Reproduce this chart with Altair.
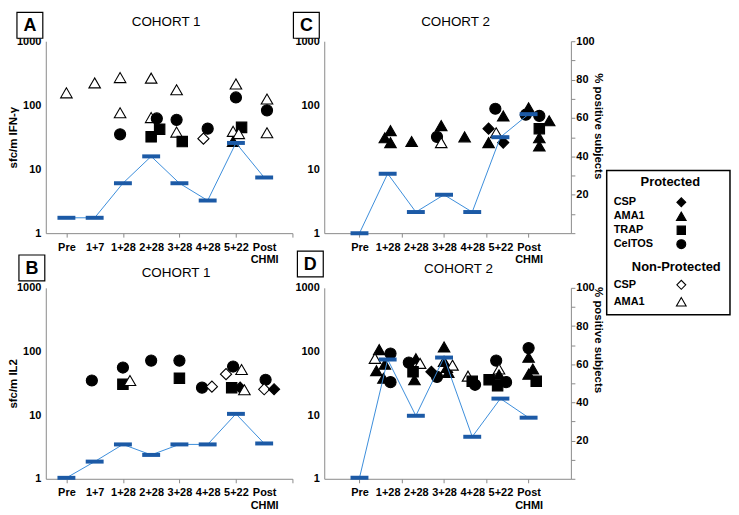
import altair as alt
import pandas as pd

FONT = "Liberation Sans, Arial, sans-serif"
FONT_WIDE = "Liberation Sans, Arial, sans-serif"

# ---------------- categories ----------------
AB_CATS = ["Pre", "1+7", "1+28", "2+28", "3+28", "4+28", "5+22", "Post CHMI"]
CD_CATS = ["Pre", "1+28", "2+28", "3+28", "4+28", "5+22", "Post CHMI"]

ANTIGENS = ["CSP", "AMA1", "TRAP", "CelTOS"]
SHAPES = ["diamond", "triangle-up", "square", "circle"]
STATUS = ["Protected", "Non-Protected"]
FILLS = ["black", "white"]

# ---------------- Panel A (Cohort 1, IFN-gamma) ----------------
a_time = ["Pre", "1+7", "1+28", "1+28", "1+28", "2+28", "2+28", "2+28", "2+28", "2+28",
          "3+28", "3+28", "3+28", "3+28", "4+28", "4+28", "5+22", "5+22", "5+22", "5+22",
          "5+22", "5+22", "Post CHMI", "Post CHMI", "Post CHMI"]
a_antigen = ["AMA1", "AMA1", "AMA1", "AMA1", "CelTOS", "AMA1", "AMA1", "CelTOS", "TRAP", "TRAP",
             "AMA1", "CelTOS", "AMA1", "TRAP", "CelTOS", "CSP", "AMA1", "CelTOS", "TRAP", "AMA1",
             "AMA1", "AMA1", "AMA1", "CelTOS", "AMA1"]
a_status = ["N", "N", "N", "N", "P", "N", "N", "P", "P", "P",
            "N", "P", "N", "P", "P", "N", "N", "P", "P", "N",
            "N", "P", "N", "P", "N"]
a_sfc = [156, 223, 270, 76, 35, 265, 64, 62, 42, 32,
         174, 59, 38, 27, 43, 30, 215, 132, 45, 39,
         36, 27, 125, 83, 37]
a_jitter = [0, 0, -0.1, -0.1, -0.1, 0, 0, 0.2, 0.3, 0,
            -0.1, -0.1, -0.1, 0.1, 0, -0.15, 0, 0, 0.2, -0.1,
            0.1, -0.1, 0.1, 0.1, 0.1]
a_pct = [8, 8, 26, 40, 26, 17, 47, 29]

# ---------------- Panel B (Cohort 1, IL2) ----------------
b_time = ["1+7", "1+28", "1+28", "1+28", "2+28", "3+28", "3+28", "4+28", "4+28",
          "5+22", "5+22", "5+22", "5+22", "5+22", "5+22", "Post CHMI", "Post CHMI", "Post CHMI"]
b_antigen = ["CelTOS", "CelTOS", "TRAP", "AMA1", "CelTOS", "CelTOS", "TRAP", "CelTOS", "CSP",
             "CSP", "CelTOS", "AMA1", "TRAP", "CSP", "AMA1", "CelTOS", "CSP", "CSP"]
b_status = ["P", "P", "P", "N", "P", "P", "P", "P", "N",
            "N", "P", "N", "P", "P", "N", "P", "N", "P"]
b_sfc = [35, 56, 30.5, 35, 72, 72, 38, 27, 28,
         44, 58, 52, 27, 27, 25, 36, 25.5, 25.5]
b_jitter = [-0.1, 0, 0, 0.25, 0, 0, 0, -0.2, 0.15,
            -0.35, -0.1, 0.2, -0.15, 0.15, 0.3, 0.05, 0, 0.35]
b_pct = [0.5, 9, 18, 12.5, 18, 18, 34, 18.5]

# ---------------- Panel C (Cohort 2, IFN-gamma) ----------------
c_time = ["1+28", "1+28", "1+28", "2+28", "3+28", "3+28", "3+28", "4+28",
          "5+22", "5+22", "5+22", "5+22", "5+22", "5+22",
          "Post CHMI", "Post CHMI", "Post CHMI", "Post CHMI", "Post CHMI", "Post CHMI", "Post CHMI"]
c_antigen = ["AMA1", "AMA1", "AMA1", "AMA1", "AMA1", "CelTOS", "AMA1", "AMA1",
             "CSP", "AMA1", "CSP", "CelTOS", "AMA1", "AMA1",
             "AMA1", "CelTOS", "CelTOS", "AMA1", "TRAP", "AMA1", "AMA1"]
c_status = ["P", "P", "P", "P", "P", "P", "N", "P",
            "P", "P", "P", "P", "P", "N",
            "P", "P", "P", "P", "P", "P", "P"]
c_sfc = [40, 31, 26, 27, 48, 32, 26, 32,
         43, 26, 26, 88, 68, 37,
         91, 71, 68, 57, 43, 31, 23]
c_jitter = [0.1, -0.1, 0.1, -0.15, -0.1, -0.25, -0.1, -0.27,
            -0.42, -0.42, 0.1, -0.18, 0.1, -0.15,
            0, -0.1, 0.38, 0.73, 0.38, 0.38, 0.38]
c_pct = [0, 31, 11, 20, 11, 50, 62]

# ---------------- Panel D (Cohort 2, IL2) ----------------
d_time = ["1+28"] * 7 + ["2+28"] * 5 + ["3+28"] * 7 + ["4+28"] * 3 + ["5+22"] * 6 + ["Post CHMI"] * 5
d_antigen = ["AMA1", "AMA1", "CelTOS", "AMA1", "AMA1", "AMA1", "CelTOS",
             "CelTOS", "AMA1", "AMA1", "TRAP", "AMA1",
             "AMA1", "AMA1", "AMA1", "AMA1", "CSP", "CelTOS", "AMA1",
             "AMA1", "TRAP", "CelTOS",
             "CelTOS", "AMA1", "AMA1", "TRAP", "TRAP", "CelTOS",
             "CelTOS", "AMA1", "AMA1", "AMA1", "TRAP"]
d_status = ["P", "N", "P", "P", "P", "P", "P",
            "P", "P", "N", "P", "P",
            "P", "P", "P", "N", "P", "P", "P",
            "N", "P", "P",
            "P", "N", "P", "P", "P", "P",
            "P", "P", "P", "P", "P"]
d_sfc = [107, 78, 93, 63, 50, 38, 33,
         67, 77, 65, 48, 36,
         118, 70, 56, 61, 48, 40, 47,
         41, 34, 30,
         72, 53, 43, 36, 29, 33,
         113, 81, 53, 44, 34]
d_jitter = [-0.3, -0.45, 0.1, -0.1, -0.4, -0.15, 0.1,
            -0.25, 0, 0.15, -0.1, -0.05,
            0, 0, 0.1, 0.3, -0.45, -0.25, 0.15,
            -0.15, 0, 0.1,
            -0.15, -0.05, -0.05, -0.4, -0.1, 0.2,
            0, 0, 0.15, 0, 0.27]
d_pct = [0.5, 62.5, 33, 63.5, 22, 42, 32]

# ---------------- legend content ----------------
leg_label = ["CSP", "AMA1", "TRAP", "CelTOS", "CSP", "AMA1"]
leg_status = ["Protected"] * 4 + ["Non-Protected"] * 2
leg_row = [1.4, 2.38, 3.36, 4.34, 7.2, 8.39]
leg_heads = ["Protected", "Non-Protected"]
leg_head_row = [0, 5.94]
leg_head_col = [0.838, 0.926]

W = 248
H1 = 193
H2 = 192
GREY = "#8a8a8a"
LINE_BLUE = "#3b8ddb"
DASH_BLUE = "#1c5aa6"


def label_expr(cats):
    items = []
    for c in cats:
        parts = c.split(" ")
        if len(parts) > 1:
            items.append("[" + ",".join("'%s'" % p for p in parts) + "]")
        else:
            items.append("'%s'" % c)
    arr = "[" + ",".join(items) + "]"
    return "(datum.value %% 1 == 0 && datum.value < %d) ? %s[datum.value] : ''" % (len(cats), arr)


def make_panel(cats, time, antigen, status, sfc, jitter, pct, letter, title, ytitle,
               right_axis, xdomain, tick_values, tick_test, h, box_xy, title_xy, rtitle_y):
    df = pd.DataFrame({
        "time": time,
        "antigen": antigen,
        "status": ["Protected" if s == "P" else "Non-Protected" for s in status],
        "sfc": sfc,
        "t": [cats.index(c) + j for c, j in zip(time, jitter)],
    })
    ldf = pd.DataFrame({"t": list(range(len(cats))), "pct": pct, "time": cats})

    xaxis = alt.Axis(values=tick_values, labelExpr=label_expr(cats), tickSize=4,
                     tickOpacity={"condition": {"test": tick_test, "value": 1}, "value": 0},
                     labelPadding=4, labelOverlap=False, labelFlush=False, labelAngle=0,
                     labelLineHeight=13, labelFontSize=11, labelBaseline="top", grid=False)
    x = alt.X("t:Q", scale=alt.Scale(domain=xdomain, nice=False, zero=False), axis=xaxis, title=None)

    yaxis_kw = dict(values=[1, 10, 100, 1000], format="d", ticks=False, grid=False,
                    labelPadding=5, labelFontSize=11)
    if ytitle:
        yaxis_kw.update(title=ytitle, titleX=-27, titleFontSize=11.5)
    yaxis = alt.Axis(**yaxis_kw)

    pts = alt.Chart(df).transform_calculate(
        msize="datum.antigen == 'TRAP' ? 110 : (datum.antigen == 'AMA1' ? 135 : 125)"
    ).mark_point(filled=True, stroke="black", strokeWidth=1.1, opacity=1).encode(
        x=x,
        y=alt.Y("sfc:Q", scale=alt.Scale(type="log", domain=[1, 1000], nice=False),
                axis=yaxis, title=ytitle if ytitle else None),
        shape=alt.Shape("antigen:N", scale=alt.Scale(domain=ANTIGENS, range=SHAPES), legend=None),
        fill=alt.Fill("status:N", scale=alt.Scale(domain=STATUS, range=FILLS), legend=None),
        size=alt.Size("msize:Q", scale=None),
    )

    if right_axis:
        raxis = alt.Axis(orient="right", values=list(range(0, 101, 10)),
                         labelExpr="(datum.value % 20 == 0 && datum.value > 0) ? datum.label : ''",
                         tickSize=4, labelPadding=1, grid=False, labelFontSize=11,
                         title="% positive subjects", titleAngle=90, titleX=22, titleY=rtitle_y,
                         titleFontSize=11.5)
    else:
        raxis = None
    ypct = alt.Y("pct:Q", scale=alt.Scale(domain=[0, 100], nice=False), axis=raxis, title=None)
    line = alt.Chart(ldf).mark_line(color=LINE_BLUE, strokeWidth=1).encode(x=x, y=ypct)
    dash = alt.Chart(ldf).mark_tick(orient="horizontal", color=DASH_BLUE, thickness=4,
                                    size=18, opacity=1).encode(x=x, y=ypct)
    blue = alt.layer(line, dash)

    deco_df = pd.DataFrame({"letter": [letter], "title": [title]})
    box = alt.Chart(deco_df).mark_point(shape="square", size=26 * 26, filled=True, fill="white",
                                        stroke="black", strokeWidth=1.2, opacity=1).encode(
        x=alt.value(box_xy[0]), y=alt.value(box_xy[1]))
    let = alt.Chart(deco_df).mark_text(font=FONT_WIDE, fontSize=18, fontWeight="bold",
                                       color="black").encode(
        x=alt.value(box_xy[0]), y=alt.value(box_xy[1] + 1), text="letter:N")
    ttl = alt.Chart(deco_df).mark_text(font=FONT, fontSize=13.5, color="black").encode(
        x=alt.value(title_xy[0]), y=alt.value(title_xy[1]), text="title:N")

    return alt.layer(pts, blue, box, let, ttl).resolve_scale(y="independent").properties(
        width=W, height=h)


AB_DOM = [-0.73, 8.0]
CD_DOM = [-1.25, 7.5]
AB_TICKS = list(range(9))
CD_TICKS = [0, 1, 1.5, 2, 3, 4, 4.5, 5, 6, 7.5]

A = make_panel(AB_CATS, a_time, a_antigen, a_status, a_sfc, a_jitter, a_pct, "A", "COHORT 1",
               "sfc/m IFN-\u03b3", False, AB_DOM, AB_TICKS, "datum.value % 2 == 0", H1,
               (-16, -16), (W / 2 - 3, -19), 85)
C = make_panel(CD_CATS, c_time, c_antigen, c_status, c_sfc, c_jitter, c_pct, "C", "COHORT 2",
               None, True, CD_DOM, CD_TICKS, "datum.value % 1.5 == 0 && datum.value < 7", H1,
               (-18, -16), (W / 2 + 8, -19), 85)
B = make_panel(AB_CATS, b_time, b_antigen, b_status, b_sfc, b_jitter, b_pct, "B", "COHORT 1",
               "sfc/m IL2", False, AB_DOM, AB_TICKS, "datum.value % 2 == 0", H2,
               (-14, -20), (W / 2 + 7, -15), 52)
D = make_panel(CD_CATS, d_time, d_antigen, d_status, d_sfc, d_jitter, d_pct, "D", "COHORT 2",
               None, True, CD_DOM, CD_TICKS, "datum.value % 1.5 == 0 && datum.value < 7", H2,
               (-14, -24), (W / 2 + 11, -19), 52)

# ---------------- custom legend ----------------
LW = 125
leg_df = pd.DataFrame({"label": leg_label, "antigen": leg_label, "status": leg_status,
                       "row": leg_row, "col_l": [0] * len(leg_label), "col_s": [1] * len(leg_label)})
head_df = pd.DataFrame({"head": leg_heads, "row": leg_head_row, "col": leg_head_col})
frame_df = pd.DataFrame({"x0": [-0.103], "x1": [1.72], "y0": [-0.84], "y1": [9.3]})

lx = alt.Scale(domain=[-0.162, -0.162 + LW / 68.0], nice=False, zero=False)
ly = alt.Scale(domain=[-9.93, -9.93 + H1 / 14.3], nice=False, zero=False, reverse=True)

frame = alt.Chart(frame_df).mark_rect(fill="white", stroke="black", strokeWidth=1.5).encode(
    x=alt.X("x0:Q", scale=lx, axis=None), x2="x1:Q",
    y=alt.Y("y0:Q", scale=ly, axis=None), y2="y1:Q")
heads = alt.Chart(head_df).mark_text(font=FONT, fontSize=13, fontWeight="bold",
                                     align="center", color="black").encode(
    x=alt.X("col:Q", scale=lx, axis=None), y=alt.Y("row:Q", scale=ly, axis=None), text="head:N")
labels = alt.Chart(leg_df).mark_text(font=FONT, fontSize=11, fontWeight="bold",
                                     align="left", color="black").encode(
    x=alt.X("col_l:Q", scale=lx, axis=None), y=alt.Y("row:Q", scale=ly, axis=None), text="label:N")
syms = alt.Chart(leg_df).transform_calculate(
    msize="datum.antigen == 'TRAP' ? 70 : (datum.antigen == 'AMA1' ? 95 : 80)"
).mark_point(filled=True, stroke="black", strokeWidth=1.1, opacity=1).encode(
    x=alt.X("col_s:Q", scale=lx, axis=None), y=alt.Y("row:Q", scale=ly, axis=None),
    shape=alt.Shape("antigen:N", scale=alt.Scale(domain=ANTIGENS, range=SHAPES), legend=None),
    fill=alt.Fill("status:N", scale=alt.Scale(domain=STATUS, range=FILLS), legend=None),
    size=alt.Size("msize:Q", scale=None))
L = alt.layer(frame, heads, labels, syms).properties(width=LW, height=H1)

chart = alt.concat(A, C, L, B, D, columns=3, spacing={"row": 55, "column": 32},
                   bounds="flush", align="each").properties(
    padding={"left": 0, "top": 0, "right": 0, "bottom": 0}
).configure_view(stroke=None).configure_axis(
    labelFont=FONT, labelFontWeight="bold", labelColor="black",
    titleFont=FONT, titleFontWeight="bold", titleColor="black",
    domainColor=GREY, tickColor=GREY, domainWidth=1, tickWidth=1
)

chart.save("out.html", embed_options={"renderer": "svg", "actions": False})
